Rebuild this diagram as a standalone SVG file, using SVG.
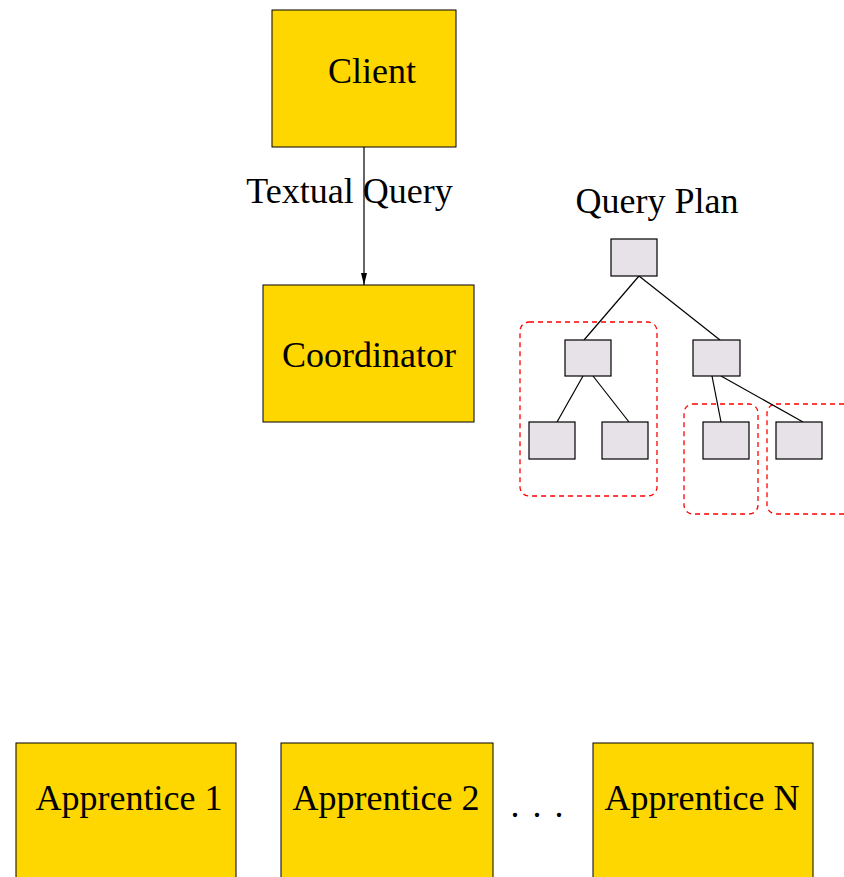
<svg xmlns="http://www.w3.org/2000/svg" width="844" height="877" viewBox="0 0 844 877">
<style>
.big{fill:#FFD700;stroke:#000;stroke-width:1}
.op{fill:#E6E2E7;stroke:#000;stroke-width:1.2}
.grp{fill:none;stroke:#FF0000;stroke-width:1.3;stroke-dasharray:5,4}
.t{font-family:"Liberation Serif",serif;font-size:36px;fill:#000}
.c{text-anchor:middle}
.ln{stroke:#000;stroke-width:1.2;fill:none}
</style>
<defs>
<marker id="ah" viewBox="0 0 10 10" markerWidth="12" markerHeight="6" refX="10" refY="5" orient="auto" markerUnits="userSpaceOnUse" preserveAspectRatio="none">
<path d="M0,0 L10,5 L0,10 z" fill="#000"/>
</marker>
</defs>
<rect width="844" height="877" fill="#fff"/>
<g id="client"><rect class="big" x="272" y="10" width="184" height="137"/><text class="t c" x="372" y="83">Client</text></g>
<g id="coordinator"><rect class="big" x="263" y="285" width="211" height="137"/><text class="t c" x="369" y="367">Coordinator</text></g>
<g id="apprentice1"><rect class="big" x="16" y="743" width="220" height="140"/><text class="t c" x="129" y="810">Apprentice 1</text></g>
<g id="apprentice2"><rect class="big" x="281" y="743" width="212" height="140"/><text class="t c" x="386" y="810">Apprentice 2</text></g>
<g id="apprenticeN"><rect class="big" x="593" y="743" width="220" height="140"/><text class="t c" x="702" y="810">Apprentice N</text></g>
<g id="dots"><text class="t" x="510.5" y="817">.</text><text class="t" x="532.5" y="817">.</text><text class="t" x="554.5" y="817">.</text></g>
<g id="plan-label"><text class="t c" x="657" y="213">Query Plan</text></g>
<g id="groups">
<rect class="grp" x="520" y="322" width="137" height="174" rx="9"/>
<rect class="grp" x="684" y="404" width="74" height="110" rx="9"/>
<rect class="grp" x="767" y="404" width="100" height="110" rx="9"/>
</g>
<g id="connectors">
<line class="ln" x1="364" y1="147" x2="364" y2="285" marker-end="url(#ah)"/>
<line class="ln" x1="639" y1="276" x2="584" y2="340"/>
<line class="ln" x1="639" y1="276" x2="720" y2="340"/>
<line class="ln" x1="583" y1="376" x2="557" y2="422"/>
<line class="ln" x1="593" y1="376" x2="629" y2="422"/>
<line class="ln" x1="712" y1="376" x2="721" y2="422"/>
<line class="ln" x1="721" y1="376" x2="803" y2="422"/>
</g>
<g id="edge-label"><text class="t c" x="349.5" y="203">Textual Query</text></g>
<g id="op-root"><rect class="op" x="611" y="239" width="46" height="37"/></g>
<g id="op-l"><rect class="op" x="565" y="340" width="46" height="36"/></g>
<g id="op-r"><rect class="op" x="693" y="340" width="47" height="36"/></g>
<g id="op-ll"><rect class="op" x="529" y="422" width="46" height="37"/></g>
<g id="op-lr"><rect class="op" x="602" y="422" width="46" height="37"/></g>
<g id="op-rl"><rect class="op" x="703" y="422" width="46" height="37"/></g>
<g id="op-rr"><rect class="op" x="776" y="422" width="46" height="37"/></g>
</svg>
